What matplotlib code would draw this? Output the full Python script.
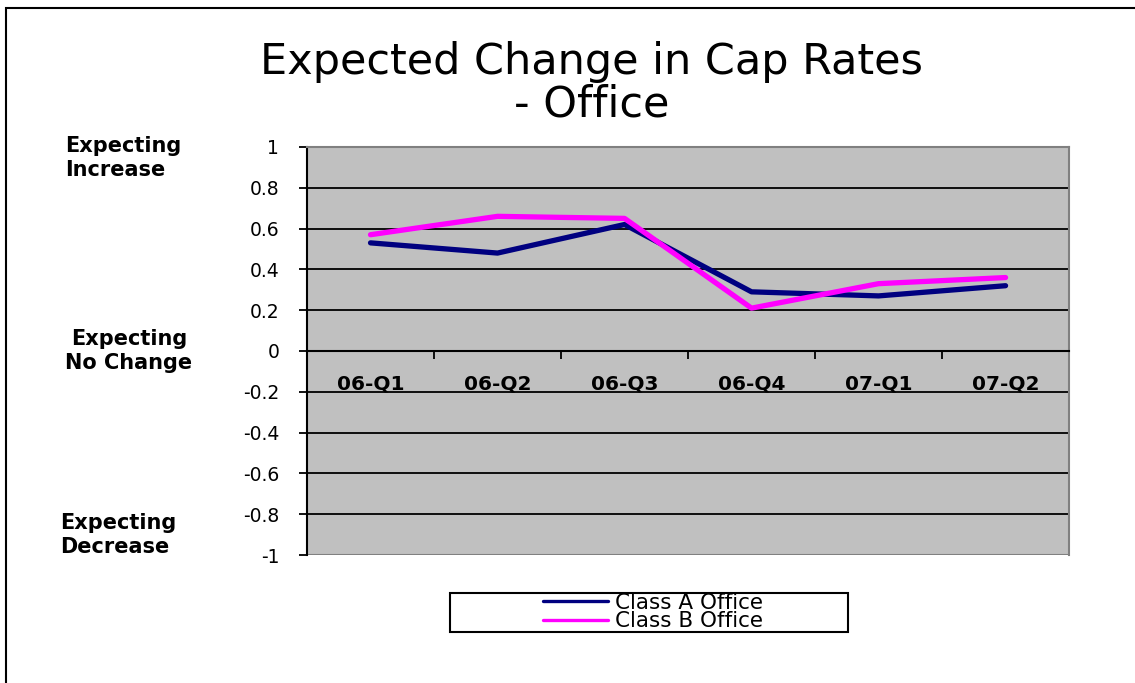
import numpy as np
import matplotlib
matplotlib.use("Agg")
import matplotlib.pyplot as plt
from matplotlib.patches import Rectangle

# data
quarters = ["06-Q1", "06-Q2", "06-Q3", "06-Q4", "07-Q1", "07-Q2"]
class_a = [0.53, 0.48, 0.62, 0.29, 0.27, 0.32]
class_b = [0.57, 0.66, 0.65, 0.21, 0.33, 0.36]
y_ticks = [-1, -0.8, -0.6, -0.4, -0.2, 0, 0.2, 0.4, 0.6, 0.8, 1]
y_tick_labels = ["-1", "-0.8", "-0.6", "-0.4", "-0.2", "0", "0.2", "0.4", "0.6", "0.8", "1"]

fig = plt.figure(figsize=(11.35, 6.83), dpi=100)
ax = fig.add_axes([0.2705, 0.1874, 0.6714, 0.5974])
ax.set_facecolor("#C0C0C0")

x = np.arange(len(quarters))
ax.plot(x, class_a, color="#000080", lw=3.8, label="Class A Office", solid_capstyle="round", zorder=3)
ax.plot(x, class_b, color="#FF00FF", lw=3.8, label="Class B Office", solid_capstyle="round", zorder=3)

ax.set_xlim(-0.5, len(quarters) - 0.5)
ax.set_ylim(-1, 1)

# grid lines
for yv in y_ticks:
    if -1 < yv < 1:
        ax.axhline(yv, color="black", lw=1.3, zorder=1)
ax.axhline(-1, color="#808080", lw=1.5, zorder=1)

ax.set_yticks(y_ticks)
ax.set_yticklabels(y_tick_labels)
ax.tick_params(axis="y", length=6, width=1.3, pad=14, labelsize=13.5)

# category axis sits at zero
ax.spines["bottom"].set_position(("data", 0))
ax.spines["bottom"].set_linewidth(1.5)
ax.spines["left"].set_linewidth(1.5)
for s in ["top", "right"]:
    ax.spines[s].set_color("#808080")
    ax.spines[s].set_linewidth(1.5)

ax.set_xticks(x)
ax.set_xticklabels(quarters, fontweight="bold", fontsize=14.5)
ax.set_xticks(np.arange(len(quarters) + 1) - 0.5, minor=True)
ax.tick_params(axis="x", which="major", length=0, pad=17)
ax.tick_params(axis="x", which="minor", length=6, width=1.3, direction="out")

# side labels
trans = ax.get_yaxis_transform()
ax.text(-0.3176, 0.945, "Expecting\nIncrease", transform=trans,
        fontsize=15, fontweight="bold", ha="left", va="center", linespacing=1.25)
ax.text(-0.2336, 0.0, "Expecting\nNo Change", transform=trans,
        fontsize=15, fontweight="bold", ha="center", va="center", linespacing=1.25,
        multialignment="center")
ax.text(-0.324, -0.9, "Expecting\nDecrease", transform=trans,
        fontsize=15, fontweight="bold", ha="left", va="center", linespacing=1.25)

fig.text(0.521, 0.878, "Expected Change in Cap Rates\n- Office", ha="center", va="center",
         fontsize=31, linespacing=1.02)

# legend
fig.patches.append(Rectangle((450 / 1135, 1 - 632 / 683), 398 / 1135, 39 / 683,
                             transform=fig.transFigure, fill=False, edgecolor="black", lw=1.5))
leg = fig.legend(loc="center", bbox_to_anchor=(653 / 1135, 1 - 612 / 683), frameon=False,
                 fontsize=15.5, labelspacing=-0.05, handlelength=3.0, handletextpad=0.3,
                 borderpad=0.0)
for ln in leg.get_lines():
    ln.set_linewidth(2.4)

# outer border
fig.patches.append(Rectangle((6 / 1135, -0.1), 1.2, 1.1 - 8 / 683, transform=fig.transFigure,
                             fill=False, edgecolor="black", lw=1.5, clip_on=False))

fig.savefig("out.png", dpi=100)
